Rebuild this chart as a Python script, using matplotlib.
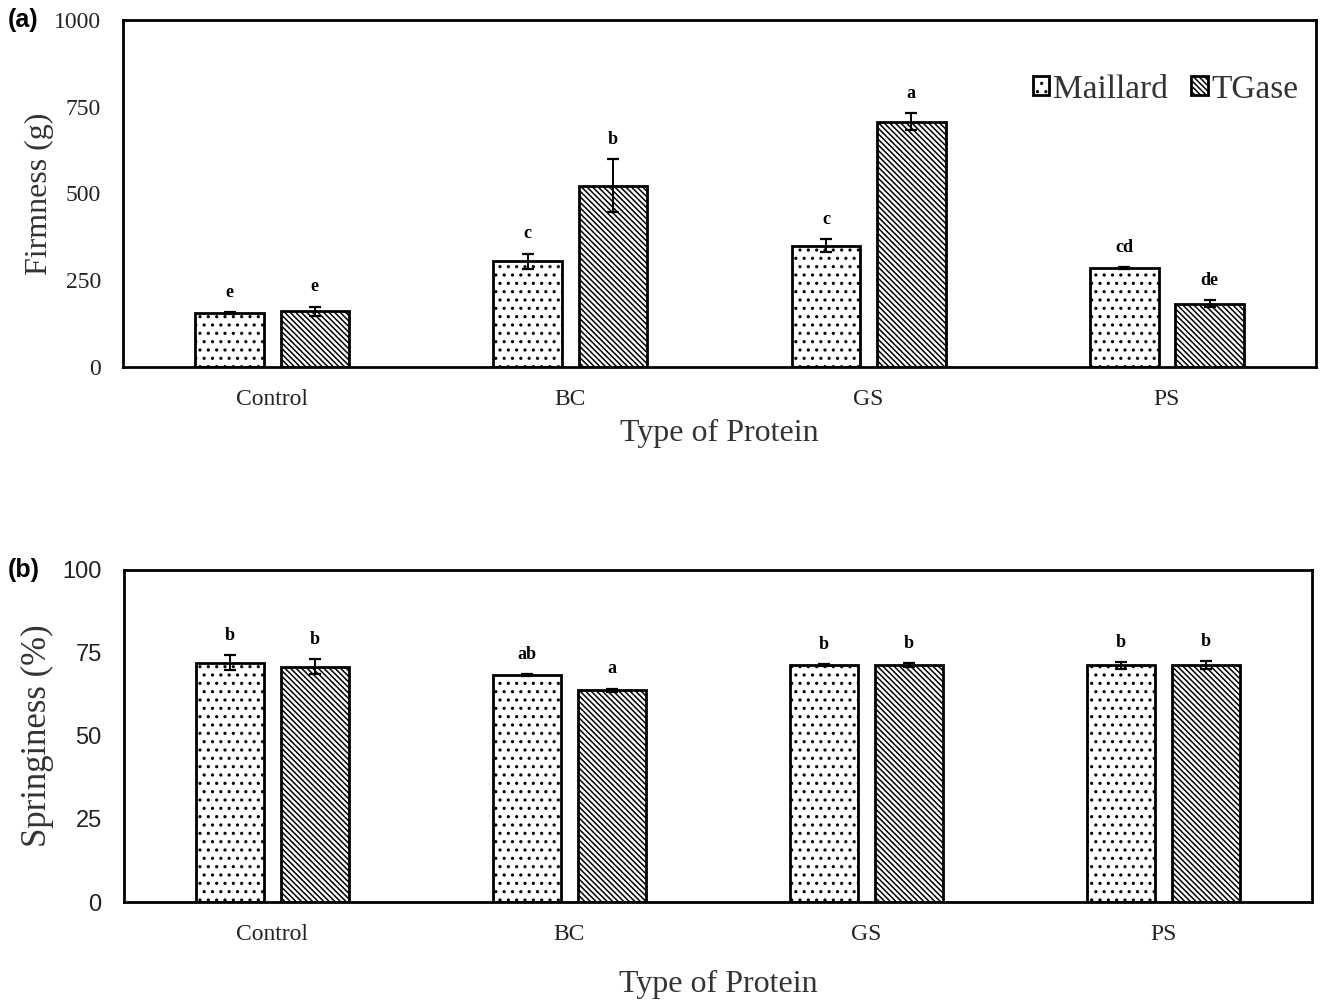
import matplotlib
matplotlib.use('Agg')
import matplotlib.pyplot as plt
import numpy as np

# data
proteins = ['Control', 'BC', 'GS', 'PS']
series = ['Maillard', 'TGase']

firm_maillard = [156, 304, 350, 286]
firm_maillard_err = [2, 23, 19, 3]
firm_tgase = [161, 523, 707, 182]
firm_tgase_err = [13, 76, 24, 10]
firm_letters_m = ['e', 'c', 'c', 'cd']
firm_letters_t = ['e', 'b', 'a', 'de']

spring_maillard = [72.1, 68.4, 71.4, 71.3]
spring_maillard_err = [2.2, 0.2, 0.2, 1.0]
spring_tgase = [70.9, 63.8, 71.4, 71.4]
spring_tgase_err = [2.2, 0.5, 0.6, 1.2]
spring_letters_m = ['b', 'ab', 'b', 'b']
spring_letters_t = ['b', 'a', 'b', 'b']

plt.rcParams['hatch.linewidth'] = 1.1
plt.rcParams['hatch.color'] = 'black'

serif = 'Liberation Serif'
sans = 'Liberation Sans'

fig = plt.figure(figsize=(13.2, 10.01), dpi=100)
ax1 = fig.add_axes([0.0932, 0.6334, 0.9038, 0.3466])
ax2 = fig.add_axes([0.0939, 0.0989, 0.9000, 0.3317])

x = np.arange(len(proteins))
w = 0.23
off = 0.143


def draw_panel(ax, m, me, t, te, lm, lt):
    b1 = ax.bar(x - off, m, w, color='white', edgecolor='black', linewidth=2.0,
                hatch='..', label=series[0], zorder=2)
    b2 = ax.bar(x + off, t, w, color='white', edgecolor='black', linewidth=2.0,
                hatch='\\\\\\\\\\\\', label=series[1], zorder=2)
    ax.errorbar(x - off, m, yerr=me, fmt='none', ecolor='black', elinewidth=1.4,
                capsize=4.5, capthick=1.6, zorder=3)
    ax.errorbar(x + off, t, yerr=te, fmt='none', ecolor='black', elinewidth=1.4,
                capsize=4.5, capthick=1.6, zorder=3)
    for i in range(len(x)):
        ax.annotate(lm[i], (x[i] - off, m[i] + me[i]), xytext=(0, 8),
                    textcoords='offset points', ha='center', va='bottom',
                    family=serif, fontweight='bold', fontsize=13)
        ax.annotate(lt[i], (x[i] + off, t[i] + te[i]), xytext=(0, 8),
                    textcoords='offset points', ha='center', va='bottom',
                    family=serif, fontweight='bold', fontsize=13)
    ax.set_xlim(-0.5, 3.5)
    ax.set_xticks(x)
    ax.set_xticklabels(proteins, family=serif, fontsize=17, color='#222222')
    ax.tick_params(axis='x', length=0, pad=16)
    ax.tick_params(axis='y', length=0, pad=16)
    for s in ax.spines.values():
        s.set_linewidth(2.0)
    return b1, b2


draw_panel(ax1, firm_maillard, firm_maillard_err, firm_tgase, firm_tgase_err,
           firm_letters_m, firm_letters_t)
ax1.set_ylim(0, 1000)
ax1.set_yticks([0, 250, 500, 750, 1000])
ax1.set_yticklabels(['0', '250', '500', '750', '1000'], family=serif, fontsize=17,
                    color='#222222')
ax1.set_ylabel('Firmness (g)', family=serif, fontsize=23, labelpad=0, color='#333333')
ax1.set_xlabel('Type of Protein', family=serif, fontsize=23, labelpad=6, color='#333333')
ax1.legend(loc='center right', bbox_to_anchor=(1.01, 0.80), ncol=2, frameon=False,
           prop={'family': serif, 'size': 24}, handlelength=0.5, handleheight=0.5,
           handletextpad=0.1, columnspacing=0.7, labelcolor='#333333')

draw_panel(ax2, spring_maillard, spring_maillard_err, spring_tgase, spring_tgase_err,
           spring_letters_m, spring_letters_t)
ax2.set_ylim(0, 100)
ax2.set_yticks([0, 25, 50, 75, 100])
ax2.set_yticklabels(['0', '25', '50', '75', '100'], family=sans, fontsize=17,
                    color='#222222')
ax2.set_ylabel('Springiness (%)', family=serif, fontsize=25, labelpad=6, color='#333333')
ax2.set_xlabel('Type of Protein', family=serif, fontsize=23, labelpad=18, color='#333333')

fig.text(0.006, 0.98, '(a)', family=sans, fontweight='bold', fontsize=18, va='center')
fig.text(0.006, 0.4306, '(b)', family=sans, fontweight='bold', fontsize=18, va='center')

fig.savefig('out.png', dpi=100)
